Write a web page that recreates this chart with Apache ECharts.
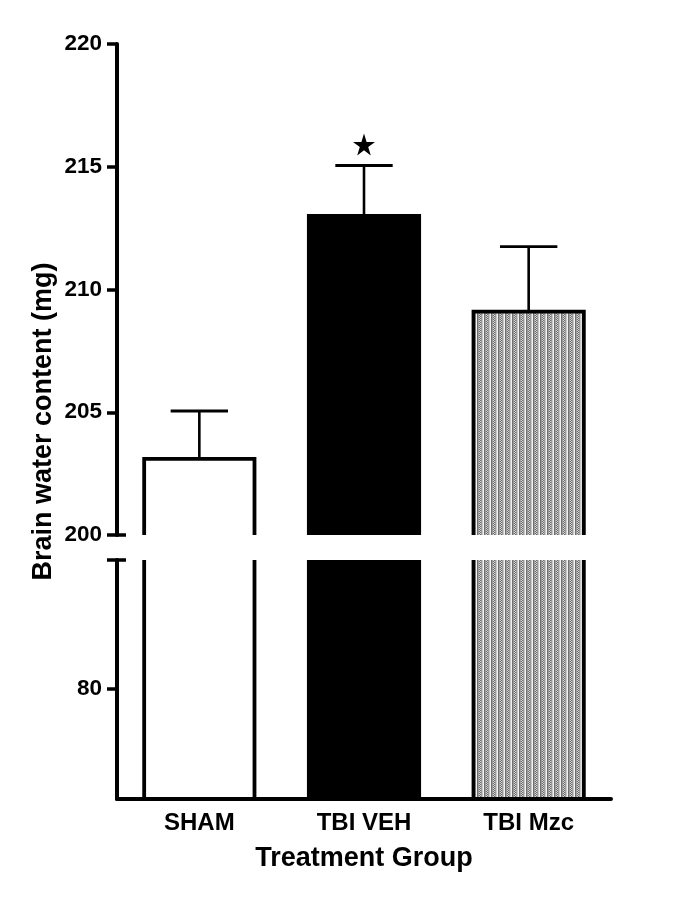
<!DOCTYPE html>
<html>
<head>
<meta charset="utf-8">
<script src="https://cdn.jsdelivr.net/npm/echarts@6/dist/echarts.min.js"></script>
<style>
html,body{margin:0;padding:0;background:#fff;}
#chart{width:685px;height:906px;}
</style>
</head>
<body>
<div id="chart"></div>
<script>
// ---- data ----
const categories = ['SHAM', 'TBI VEH', 'TBI Mzc'];
const means = [203.1, 213.0, 209.1];
const sems = [1.95, 2.05, 2.65];
const significance = ['', '★', ''];
const upperTicks = [200, 205, 210, 215, 220];
const lowerTicks = [80];

// ---- styling helpers ----
const FONT = "'Liberation Sans', Arial, sans-serif";
const BAR_RATIO = 0.67;
const upperMin = 200, upperMax = 220;
const lowerMin = 75.5, lowerMax = 85.25;

function makePattern() {
  const c = document.createElement('canvas');
  c.width = 7; c.height = 4;
  const g = c.getContext('2d');
  g.fillStyle = '#9a9a9a'; g.fillRect(0, 0, 7, 4);
  g.fillStyle = '#f2f2f2'; g.fillRect(0, 0, 1, 4);
  g.fillStyle = '#707070'; g.fillRect(1, 0, 1, 4);
  for (let y = 0; y < 4; y++) {
    g.fillStyle = y % 2 ? '#6a6a6a' : '#d8d8d8'; g.fillRect(3, y, 1, 1);
    g.fillStyle = y % 2 ? '#d8d8d8' : '#6a6a6a'; g.fillRect(4, y, 1, 1);
  }
  g.fillStyle = '#c8c8c8'; g.fillRect(6, 0, 1, 4);
  return c;
}
const fills = ['#ffffff', '#000000', { image: makePattern(), repeat: 'repeat' }];

function barRender(upper) {
  return function (params, api) {
    const cs = params.coordSys;
    const i = api.value(0);
    const c = api.coord([i, api.value(1)]);
    const w = api.size([1, 0])[0] * BAR_RATIO;
    const x0 = c[0] - w / 2, x1 = c[0] + w / 2;
    const yTop = upper ? c[1] : cs.y;
    const yBot = cs.y + cs.height;
    const pts = upper
      ? [[x0, yBot], [x0, yTop], [x1, yTop], [x1, yBot]]
      : [[x0, yTop], [x0, yBot], [x1, yBot], [x1, yTop]];
    return {
      type: 'group',
      children: [
        { type: 'rect', shape: { x: x0, y: yTop, width: w, height: yBot - yTop }, style: { fill: fills[params.dataIndex] } },
        { type: 'polyline', shape: { points: pts }, style: { stroke: '#000', lineWidth: 3.8, fill: null } }
      ]
    };
  };
}

function errRender(params, api) {
  const i = api.value(0);
  const base = api.coord([i, api.value(1)]);
  const top = api.coord([i, api.value(2)]);
  const w = api.size([1, 0])[0] * BAR_RATIO * 0.52;
  return {
    type: 'group',
    children: [
      { type: 'line', shape: { x1: base[0], y1: base[1], x2: top[0], y2: top[1] }, style: { stroke: '#000', lineWidth: 2.6 } },
      { type: 'line', shape: { x1: top[0] - w / 2, y1: top[1], x2: top[0] + w / 2, y2: top[1] }, style: { stroke: '#000', lineWidth: 2.8 } }
    ]
  };
}

const barData = categories.map((c, i) => [i, means[i]]);
const errData = categories.map((c, i) => [i, means[i], means[i] + sems[i]]);
const starData = categories.map((c, i) => significance[i] ? [i, means[i] + sems[i]] : null).filter(Boolean);

const gridL = 117, gridR = 74;
const upperTop = 44, upperBottom = 906 - 535;
const lowerTop = 560, lowerBottom = 906 - 799;

const axisLineStyle = { color: '#000', width: 4 };

const option = {
  backgroundColor: '#fff',
  animation: false,
  grid: [
    { left: gridL, right: gridR, top: upperTop, bottom: upperBottom },
    { left: gridL, right: gridR, top: lowerTop, bottom: lowerBottom },
    { left: gridL, right: gridR, top: upperTop, bottom: lowerBottom }
  ],
  xAxis: [
    { gridIndex: 0, type: 'category', data: categories, show: false },
    {
      gridIndex: 1, type: 'category', data: categories,
      axisLine: { lineStyle: axisLineStyle },
      axisTick: { alignWithLabel: true, length: 9, lineStyle: { color: '#000', width: 3.5 } },
      axisLabel: { color: '#000', fontFamily: FONT, fontWeight: 'bold', fontSize: 24, margin: 12 },
      name: 'Treatment Group', nameLocation: 'middle', nameGap: 46,
      nameTextStyle: { color: '#000', fontFamily: FONT, fontWeight: 'bold', fontSize: 27 }
    },
    { gridIndex: 2, type: 'category', data: categories, show: false }
  ],
  yAxis: [
    {
      gridIndex: 0, type: 'value', min: upperMin, max: upperMax, interval: 5,
      axisLine: { show: true, lineStyle: axisLineStyle },
      axisTick: { show: true, length: 10, lineStyle: { color: '#000', width: 3.5 } },
      axisLabel: { color: '#000', fontFamily: FONT, fontWeight: 'bold', fontSize: 22.5, margin: 15,
        customValues: upperTicks },
      splitLine: { show: false }
    },
    {
      gridIndex: 0, type: 'value', min: upperMin, max: upperMax, position: 'left',
      axisLine: { show: false },
      axisTick: { show: true, inside: true, length: 9, customValues: [upperMin], lineStyle: { color: '#000', width: 3.5 } },
      axisLabel: { show: false }, splitLine: { show: false }
    },
    {
      gridIndex: 1, type: 'value', min: lowerMin, max: lowerMax,
      axisLine: { show: true, lineStyle: axisLineStyle },
      axisTick: { show: true, length: 10, customValues: lowerTicks.concat([lowerMax]), lineStyle: { color: '#000', width: 3.5 } },
      axisLabel: { color: '#000', fontFamily: FONT, fontWeight: 'bold', fontSize: 22.5, margin: 15,
        customValues: lowerTicks },
      splitLine: { show: false }
    },
    {
      gridIndex: 1, type: 'value', min: lowerMin, max: lowerMax, position: 'left',
      axisLine: { show: false },
      axisTick: { show: true, inside: true, length: 9, customValues: [lowerMax], lineStyle: { color: '#000', width: 3.5 } },
      axisLabel: { show: false }, splitLine: { show: false }
    },
    {
      gridIndex: 2, type: 'value', min: 0, max: 1,
      axisLine: { show: false }, axisTick: { show: false }, axisLabel: { show: false }, splitLine: { show: false },
      name: 'Brain water content (mg)', nameLocation: 'middle', nameGap: 60,
      nameTextStyle: { color: '#000', fontFamily: FONT, fontWeight: 'bold', fontSize: 27 }
    }
  ],
  series: [
    { type: 'custom', xAxisIndex: 1, yAxisIndex: 2, renderItem: barRender(false), data: barData, clip: false, z: 1 },
    { type: 'custom', xAxisIndex: 0, yAxisIndex: 0, renderItem: barRender(true), data: barData, clip: false, z: 1 },
    { type: 'custom', xAxisIndex: 0, yAxisIndex: 0, renderItem: errRender, data: errData, clip: false, z: 2 },
    {
      type: 'scatter', xAxisIndex: 0, yAxisIndex: 0, data: starData,
      symbol: 'path://M50,0 L61.2,34.5 L97.6,34.5 L68.2,55.9 L79.4,90.5 L50,69.1 L20.6,90.5 L31.8,55.9 L2.4,34.5 L38.8,34.5 Z',
      symbolSize: 22, symbolOffset: [0, -21], itemStyle: { color: '#000', opacity: 1 }, z: 3
    }
  ]
};

const chart = echarts.init(document.getElementById('chart'), null, { renderer: 'canvas' });
chart.setOption(option);
</script>
</body>
</html>
